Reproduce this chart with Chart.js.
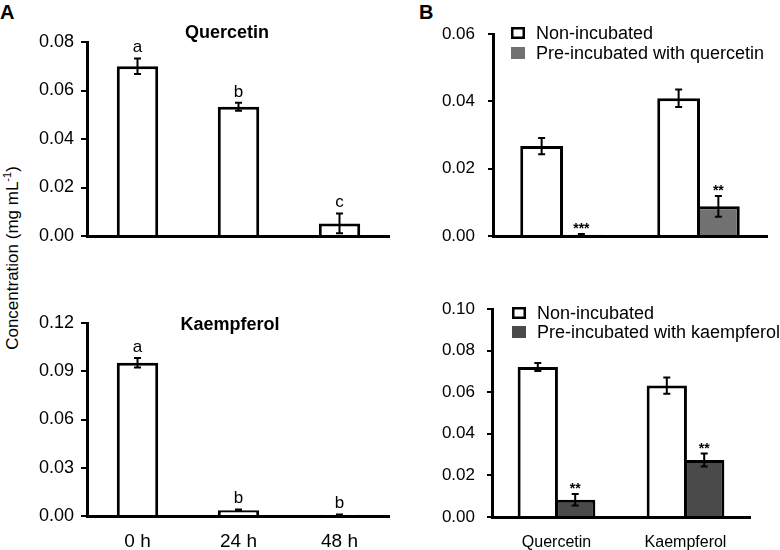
<!DOCTYPE html>
<html>
<head>
<meta charset="utf-8">
<script src="https://cdn.jsdelivr.net/npm/chart.js@4"></script>
<style>
  body { margin: 0; background: #fff; font-family: "Liberation Sans", Arial, sans-serif; }
  #wrap { position: relative; width: 780px; height: 550px; overflow: hidden; }
  canvas { position: absolute; }
  .panel { position: absolute; font-weight: bold; font-size: 20px; line-height: 20px; }
  #ytitle { position: absolute; left: 12px; top: 258px; font-size: 17px; white-space: nowrap;
            transform: translate(-50%, -50%) rotate(-90deg); }
  #ytitle sup { font-size: 11px; }
</style>
</head>
<body>
<div id="wrap">
  <div class="panel" style="left:0px; top:2px;">A</div>
  <div class="panel" style="left:419px; top:2px;">B</div>
  <div id="ytitle">Concentration (mg mL<sup>-1</sup>)</div>
  <canvas id="aTop" width="390" height="250" style="left:0; top:0;"></canvas>
  <canvas id="aBot" width="390" height="290" style="left:0; top:260px;"></canvas>
  <canvas id="bTop" width="390" height="250" style="left:390px; top:0;"></canvas>
  <canvas id="bBot" width="390" height="290" style="left:390px; top:260px;"></canvas>
</div>
<script>
// panel A: time course
const timeLabels = ['0 h', '24 h', '48 h'];
const quercetinTime = [0.0700, 0.0533, 0.0052];
const quercetinTimeErr = [0.0032, 0.0017, 0.0041];
const quercetinLetters = ['a', 'b', 'c'];
const kaempferolTime = [0.0953, 0.0036, 0.0008];
const kaempferolTimeErr = [0.0030, 0.0005, 0.0002];
const kaempferolLetters = ['a', 'b', 'b'];

// panel B: pre-incubation
const compoundLabels = ['Quercetin', 'Kaempferol'];
const nonIncQ = [0.0267, 0.0409];
const nonIncQErr = [0.0024, 0.0026];
const preQ = [0.0004, 0.0088];
const preQErr = [0.0002, 0.0031];
const preQStars = ['***', '**'];
const nonIncK = [0.0721, 0.0632];
const nonIncKErr = [0.0019, 0.0039];
const preK = [0.0083, 0.0274];
const preKErr = [0.0028, 0.0031];
const preKStars = ['**', '**'];

const FONT = '"Liberation Sans", Arial, sans-serif';

const extras = {
  id: 'extras',
  afterDatasetsDraw(chart, args, opts) {
    const { ctx } = chart;
    const y = chart.scales.y;
    ctx.save();
    chart.data.datasets.forEach((ds, i) => {
      chart.getDatasetMeta(i).data.forEach((bar, j) => {
        const v = ds.data[j], e = ds.errors[j];
        const top = y.getPixelForValue(v + e);
        const bot = y.getPixelForValue(Math.max(v - e, 0));
        ctx.strokeStyle = '#000';
        ctx.lineWidth = 2;
        ctx.beginPath();
        ctx.moveTo(bar.x, top); ctx.lineTo(bar.x, bot);
        ctx.moveTo(bar.x - 3.5, top); ctx.lineTo(bar.x + 3.5, top);
        ctx.moveTo(bar.x - 3.5, bot); ctx.lineTo(bar.x + 3.5, bot);
        ctx.stroke();
        if (ds.marks) {
          ctx.fillStyle = '#000';
          ctx.textAlign = 'center';
          ctx.textBaseline = 'alphabetic';
          ctx.font = ds.markFont;
          ctx.fillText(ds.marks[j], bar.x, top - ds.markGap);
        }
      });
    });
    if (opts.title) {
      ctx.fillStyle = '#000';
      ctx.font = 'bold 18px ' + FONT;
      ctx.textAlign = 'center';
      ctx.textBaseline = 'middle';
      ctx.fillText(opts.title.text, opts.title.x, opts.title.y);
    }
    if (opts.legend) {
      const { x, y: ly, gap } = opts.legend;
      chart.data.datasets.forEach((ds, i) => {
        const cy = ly + i * gap;
        ctx.fillStyle = ds.backgroundColor;
        ctx.fillRect(x, cy - 6, 14, 12);
        ctx.strokeStyle = ds.legendBorder;
        ctx.lineWidth = 2.5;
        ctx.strokeRect(x + 1.25, cy - 4.75, 11.5, 9.5);
        ctx.fillStyle = '#000';
        ctx.font = '18px ' + FONT;
        ctx.textAlign = 'left';
        ctx.textBaseline = 'middle';
        ctx.fillText(ds.label, x + 25, cy + 1);
      });
    }
    ctx.restore();
  }
};

function makeChart(id, cfg) {
  new Chart(document.getElementById(id), {
    type: 'bar',
    data: { labels: cfg.labels, datasets: cfg.datasets },
    options: {
      responsive: false,
      animation: false,
      layout: { padding: cfg.padding },
      plugins: { legend: { display: false }, tooltip: { enabled: false }, extras: cfg.extras },
      scales: {
        x: {
          grid: { display: false, drawTicks: false },
          border: { display: true, color: '#000', width: 3 },
          ticks: { display: cfg.showX, color: '#000', padding: cfg.xPad, font: { family: FONT, size: cfg.xSize } },
          afterFit: s => { s.height = cfg.xHeight; }
        },
        y: {
          min: 0, max: cfg.max,
          grid: { display: true, drawOnChartArea: false, drawTicks: true, tickLength: cfg.tickLen, color: '#000', lineWidth: 2 },
          border: { display: true, color: '#000', width: 3 },
          ticks: { stepSize: cfg.step, color: '#000', padding: cfg.yPad, font: { family: FONT, size: cfg.ySize },
                   callback: v => v.toFixed(2) },
          afterFit: s => { s.width = cfg.yWidth; s.paddingTop = 0; s.paddingBottom = 0; }
        }
      }
    },
    plugins: [extras]
  });
}

const whiteBar = {
  backgroundColor: '#fff', borderColor: '#000', borderWidth: 3,
  barPercentage: 0.41, categoryPercentage: 1, markFont: '17px ' + FONT, markGap: 6
};

makeChart('aTop', {
  labels: timeLabels,
  datasets: [Object.assign({ label: 'Quercetin', data: quercetinTime, errors: quercetinTimeErr, marks: quercetinLetters }, whiteBar)],
  padding: { top: 42, right: 0, left: 0, bottom: 0 },
  showX: false, xHeight: 14, xPad: 0, xSize: 19,
  max: 0.08, step: 0.02, yWidth: 87, tickLen: 6, yPad: 7, ySize: 18,
  extras: { title: { text: 'Quercetin', x: 227, y: 33 } }
});

makeChart('aBot', {
  labels: timeLabels,
  datasets: [Object.assign({ label: 'Kaempferol', data: kaempferolTime, errors: kaempferolTimeErr, marks: kaempferolLetters }, whiteBar)],
  padding: { top: 63, right: 0, left: 0, bottom: 0 },
  showX: true, xHeight: 34, xPad: 14, xSize: 19,
  max: 0.12, step: 0.03, yWidth: 87, tickLen: 6, yPad: 7, ySize: 18,
  extras: { title: { text: 'Kaempferol', x: 230, y: 65 } }
});

function groupSets(nonInc, nonErr, pre, preErr, stars, preLabel, preColor) {
  return [
    { label: 'Non-incubated', data: nonInc, errors: nonErr, backgroundColor: '#fff', legendBorder: '#000',
      borderColor: '#000', borderWidth: 3, barPercentage: 1.077, categoryPercentage: 0.58 },
    { label: preLabel, data: pre, errors: preErr, marks: stars, markFont: 'bold 14px ' + FONT, markGap: 1,
      backgroundColor: preColor, legendBorder: preColor, borderColor: '#000', borderWidth: 3,
      barPercentage: 1.077, categoryPercentage: 0.58 }
  ];
}

makeChart('bTop', {
  labels: compoundLabels,
  datasets: groupSets(nonIncQ, nonIncQErr, preQ, preQErr, preQStars, 'Pre-incubated with quercetin', '#717171'),
  padding: { top: 34, right: 13, left: 0, bottom: 0 },
  showX: false, xHeight: 14, xPad: 0, xSize: 16,
  max: 0.06, step: 0.02, yWidth: 103, tickLen: 5, yPad: 13, ySize: 17,
  extras: { legend: { x: 121, y: 33, gap: 20 } }
});

makeChart('bBot', {
  labels: compoundLabels,
  datasets: groupSets(nonIncK, nonIncKErr, preK, preKErr, preKStars, 'Pre-incubated with kaempferol', '#4a4a4a'),
  padding: { top: 49, right: 30, left: 0, bottom: 0 },
  showX: true, xHeight: 33, xPad: 16, xSize: 16,
  max: 0.10, step: 0.02, yWidth: 102, tickLen: 5, yPad: 12, ySize: 17,
  extras: { legend: { x: 122, y: 53, gap: 19 } }
});
</script>
</body>
</html>
